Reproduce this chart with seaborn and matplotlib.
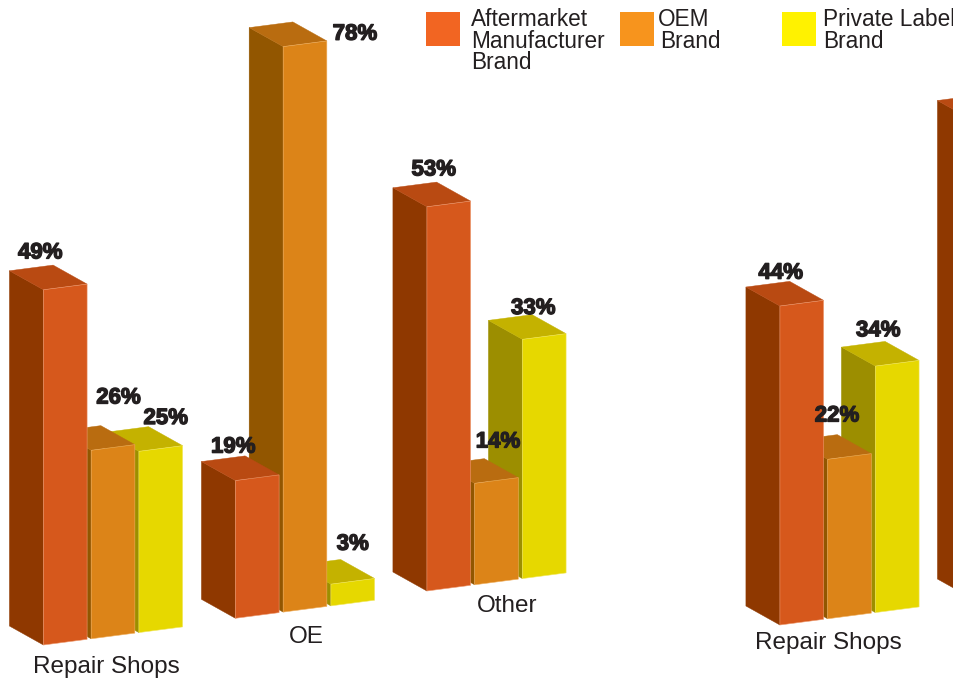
import numpy as np
import pandas as pd
import seaborn as sns
import matplotlib
matplotlib.use("Agg")
import matplotlib.pyplot as plt
import matplotlib.patheffects as pe
from matplotlib.patches import Polygon, Rectangle
from matplotlib.transforms import Affine2D, IdentityTransform

plt.rcParams['font.family'] = ['Liberation Sans', 'DejaVu Sans']

# ------ values ------ #
groups = ["Repair Shops", "OE", "Other", "Repair Shops", "OE"]
brands = ["Aftermarket Manufacturer Brand", "OEM Brand", "Private Label Brand"]
aftermarket = [49, 19, 53, 44, 66]
oem = [26, 78, 14, 22]
private_label = [25, 3, 33, 34]

# ------ layout, in pixels of the 954x679 picture ------ #
W, H = 954, 679
PX_PER_PCT = 7.25
SLOPE = 0.13
DEPTH = (-34, 19)
group_x = [113, 305, 496.5, 849.5, 1041]
group_base = [645, 618.3, 591, 625, 598]
group_name_xy = [(106, 672.7), (306, 642.7), (507, 612.5), (828, 648.5)]
# label offset from the top centre of the bar, one list per brand
label_offsets = [
    [(-25, 34), (-24, 30.6), (-15, 34), (-21, 30)],
    [(5.5, 49.5), (50, 9.5), (1.5, 38.5), (-12.5, 40.5)],
    [(5, 30), (0, 37), (-11, 28), (-19, 32.5)],
]

# ------ colours ------ #
front_colors = ["#D6581C", "#DC8418", "#E6D800"]
side_colors = ["#8F3800", "#925600", "#9C8E00"]
top_colors = ["#B94A12", "#B96C10", "#C4B200"]
edge_colors = ["#EE9A70", "#F0B060", "#F2E860"]
legend_colors = ["#F26522", "#F7941D", "#FFF200"]
text_color = "#231F20"

rows = []
for brand, values in zip(brands, [aftermarket, oem, private_label]):
    for x, v in zip(group_x, values):
        rows.append({"x": x, "share": v, "brand": brand})
data = pd.DataFrame(rows)

fig = plt.figure(figsize=(W / 100, H / 100), dpi=100, facecolor="w")
ax = fig.add_axes([0, 0, 1, 1])
sns.barplot(
    data=data, x="x", y="share", hue="brand", hue_order=brands,
    palette=front_colors, native_scale=True, width=0.748, gap=0.085,
    saturation=1, legend=False, errorbar=None, ax=ax,
)
ax.set_xlim(0, W)
ax.set_ylim(0, H / PX_PER_PCT)
ax.set_axis_off()


def poly(points, color, z):
    ax.add_patch(Polygon(
        points, closed=True, facecolor=color, edgecolor=color, linewidth=0.3,
        transform=IdentityTransform(), zorder=z,
    ))


# ------ turn the flat bars into boxes ------ #
depth = np.array(DEPTH)
for k, container in enumerate(ax.containers):
    for n, bar in enumerate(container):
        x0, w, v = bar.get_x(), bar.get_width(), bar.get_height()
        g = int(np.argmin(np.abs(np.array(group_x) - (x0 + w / 2))))
        left = group_x[g] - 69.5
        shear = Affine2D.from_values(
            1, SLOPE, 0, 1, 0, H - group_base[g] - SLOPE * left
        )
        tf = ax.transData + shear
        z = 10 - k
        bar.set_transform(tf)
        bar.set_zorder(z)
        bar.set_edgecolor(edge_colors[k])
        bar.set_linewidth(0.4)

        bl, tl, tr = tf.transform([(x0, 0), (x0, v), (x0 + w, v)])
        poly([bl, tl, tl + depth, bl + depth], side_colors[k], z - 0.2)
        poly([tl, tr, tr + depth, tl + depth], top_colors[k], z - 0.1)

        if n < len(label_offsets[k]):
            dx, dy = label_offsets[k][n]
            cx, cy = (tl + tr) / 2
            ax.text(
                cx + dx, cy + dy, "%d%%" % v, transform=IdentityTransform(),
                ha="center", va="center", fontsize=16, fontweight="bold",
                color=text_color, zorder=20,
                path_effects=[pe.withStroke(linewidth=1.0, foreground=text_color)],
            )

# ------ group names ------ #
for name, (x, y) in zip(groups, group_name_xy):
    ax.text(x, H - y, name, transform=IdentityTransform(), ha="center",
            va="baseline", fontsize=17.5, color=text_color, zorder=20)

# ------ legend ------ #
swatch_x = [426, 620, 782]
legend_lines = [
    [("Aftermarket", 471), ("Manufacturer", 471), ("Brand", 471)],
    [("OEM", 658), ("Brand", 660)],
    [("Private Label", 823), ("Brand", 823)],
]
for sx, color, lines in zip(swatch_x, legend_colors, legend_lines):
    ax.add_patch(Rectangle(
        (sx, H - 45.5), 33.5, 33.5, facecolor=color, edgecolor="none",
        transform=IdentityTransform(), zorder=20,
    ))
    for i, (line, lx) in enumerate(lines):
        ax.text(lx, H - (26.5 + 21.3 * i), line, transform=IdentityTransform(),
                ha="left", va="baseline", fontsize=16.3, color=text_color,
                zorder=20)

fig.savefig("out.png", dpi=100)
